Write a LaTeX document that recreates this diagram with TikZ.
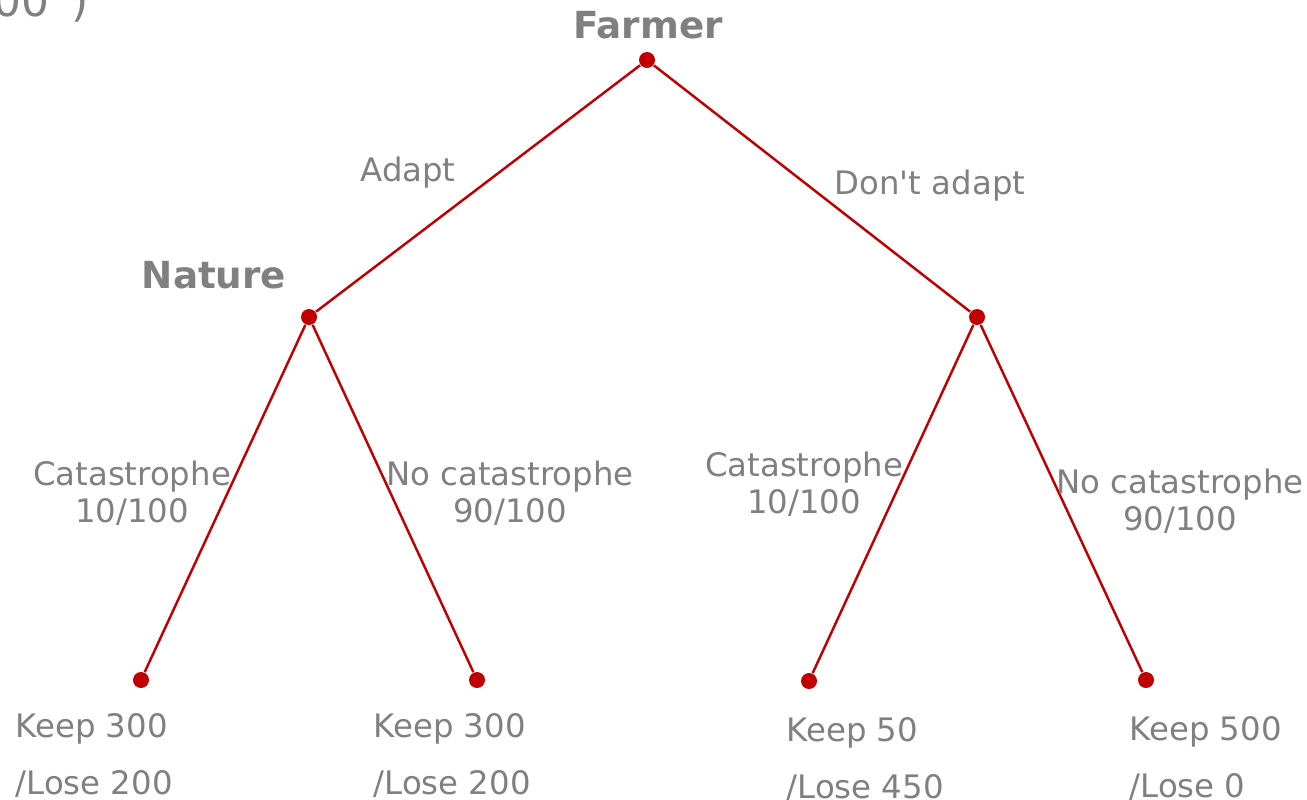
\documentclass[tikz,border=0pt]{standalone}
\usepackage{fontspec}
\setmainfont{DejaVu Sans}
\usepackage{xcolor}
\usepackage{tikz}
\usetikzlibrary{positioning}
\definecolor{cRed}{RGB}{192,0,0}
\definecolor{cText}{RGB}{128,128,128}
\tikzset{
	dotnode/.style ={circle, fill=cRed, minimum size=0.16cm, inner sep=0pt},
	branch/.style  ={draw=cRed, line width=0.7pt},
	player/.style  ={text=cText, inner sep=0pt, font=\fontsize{10.6}{12}\selectfont\bfseries},
	movelbl/.style ={text=cText, inner sep=0pt, align=center, font=\fontsize{9.2}{10.5}\selectfont},
	payoff/.style  ={text=cText, inner sep=0pt, align=left, anchor=north west, font=\fontsize{9.2}{16.2}\selectfont},
}

\begin{document}
\begin{tikzpicture}[x=0.01cm, y=-0.01cm]
	\useasboundingbox (0,0) rectangle (1307,799);
	\clip (0,0) rectangle (1307,799);
	\node[text=cText, inner sep=0pt, anchor=base east, font=\fontsize{12.5}{14}\selectfont] (frag) at (89,16) {00\hspace{0.5em})};
	% decision nodes
	\node[dotnode] (farmer) at (647,60) {};
	\node[dotnode] (nat1) at (309,317) {};
	\node[dotnode] (nat2) at (977,317) {};
	\node[dotnode] (o1) at (141,680) {};
	\node[dotnode] (o2) at (477,680) {};
	\node[dotnode] (o3) at (809,681) {};
	\node[dotnode] (o4) at (1146,680) {};
	\node[player] (farmerlbl) at (648,25) {Farmer};
	\node[player] (naturelbl) at (214,275) {Nature};
	% branches
	\draw[branch] (farmer) -- (nat1); \draw[branch] (farmer) -- (nat2);
	\draw[branch] (nat1) -- (o1); \draw[branch] (nat1) -- (o2);
	\draw[branch] (nat2) -- (o3); \draw[branch] (nat2) -- (o4);
	% move labels
	\node[movelbl, anchor=base] (adapt) at (408,181) {Adapt};
	\node[movelbl, anchor=base] (noadapt) at (930,194) {Don\textquotesingle t adapt};
	\node[movelbl] (cat1) at (132,493) {Catastrophe\\10/100};
	\node[movelbl] (nocat1) at (510,493) {No catastrophe\\90/100};
	\node[movelbl] (cat2) at (804,484) {Catastrophe\\10/100};
	\node[movelbl] (nocat2) at (1180,501) {No catastrophe\\90/100};
	% payoffs
	\node[payoff] (p1) at (15,713) {Keep 300\\/Lose 200};
	\node[payoff] (p2) at (373,713) {Keep 300\\/Lose 200};
	\node[payoff] (p3) at (786,717) {Keep 50\\/Lose 450};
	\node[payoff] (p4) at (1129,716) {Keep 500\\/Lose 0};
\end{tikzpicture}
\end{document}
